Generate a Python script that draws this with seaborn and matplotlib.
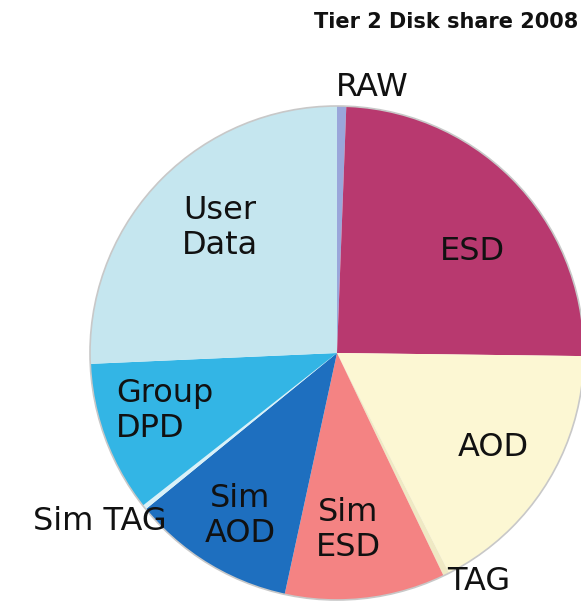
import matplotlib
matplotlib.use("Agg")
import matplotlib.pyplot as plt
import seaborn as sns

sns.set_theme(style="white")
plt.rcParams["font.family"] = ["DejaVu Sans"]

# Disk share by data type (percent), clockwise from 12 o'clock
categories = ["RAW", "ESD", "AOD", "TAG", "Sim ESD", "Sim AOD", "Sim TAG", "Group DPD", "User Data"]
shares = [0.6, 24.6, 17.3, 0.4, 10.5, 10.7, 0.3, 9.9, 25.7]
colors = ["#9aa6da", "#b8396f", "#fcf7d3", "#efe9c4", "#f48383", "#1e6fbf", "#d9f1f8", "#33b5e5", "#c5e6ef"]
title = "Tier 2 Disk share 2008"

W, H = 581, 601
fig = plt.figure(figsize=(W / 100, H / 100), dpi=100)
ax = fig.add_axes([0, 0, 1, 1])

cx, cy, r = 337, H - 353, 247
ax.pie(shares, colors=colors, startangle=90, counterclock=False,
       center=(cx, cy), radius=r, frame=True,
       wedgeprops=dict(linewidth=0, edgecolor="none"))
ax.add_patch(plt.Circle((cx, cy), r, fill=False, edgecolor="#c8c8c8", linewidth=1.2))
ax.set_xlim(0, W)
ax.set_ylim(0, H)
ax.set_aspect("equal")
ax.axis("off")

label_pos = {
    "RAW": (372, 87, "RAW"),
    "ESD": (472, 252, "ESD"),
    "AOD": (493, 448, "AOD"),
    "TAG": (479, 581, "TAG"),
    "Sim ESD": (348, 530, "Sim\nESD"),
    "Sim AOD": (240, 516, "Sim\nAOD"),
    "Sim TAG": (100, 522, "Sim TAG"),
    "Group DPD": (116, 411, "Group\nDPD"),
    "User Data": (220, 228, "User\nData"),
}
for name in categories:
    x, y, txt = label_pos[name]
    left = name == "Group DPD"
    ax.text(x, H - y, txt, ha="left" if left else "center", va="center",
            fontsize=23, color="#111111", linespacing=1.15,
            multialignment="left" if left else "center")

ax.text(578, H - 22, title, ha="right", va="center", fontsize=15,
        fontweight="bold", color="#111111")

fig.savefig("out.png", dpi=100, facecolor="white")
